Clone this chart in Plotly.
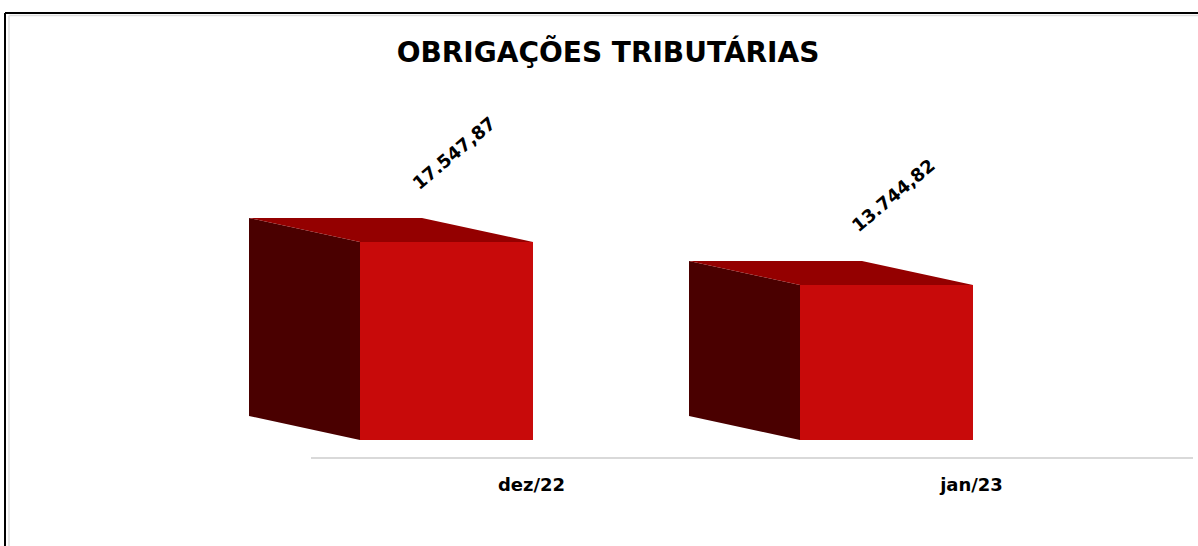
import plotly.graph_objects as go

categories = ['dez/22', 'jan/23']
values = [17547.87, 13744.82]
value_labels = ['17.547,87', '13.744,82']

FRONT = '#C80A0A'
SIDE = '#4A0000'
TOP = '#940000'

W, H = 1198, 546
PX_X = 440.0          # px per category step
PX_Y = 17547.87 / 198  # value units per px
X0_PX, Y0_PX = 446.5, 440  # pixel position of x=0 / y=0

bar_w = 173 / PX_X
depth_x = 111 / PX_X
depth_y = 24 * PX_Y

x_min = -X0_PX / PX_X
x_max = x_min + W / PX_X
y_min = -(H - Y0_PX) * PX_Y
y_max = y_min + H * PX_Y

fig = go.Figure()

for i, v in enumerate(values):
    x0, x1 = i - bar_w / 2, i + bar_w / 2
    # left side face
    fig.add_trace(go.Scatter(
        x=[x0 - depth_x, x0, x0, x0 - depth_x, x0 - depth_x],
        y=[depth_y, 0, v, v + depth_y, depth_y],
        fill='toself', fillcolor=SIDE, mode='lines', line=dict(width=0, color=SIDE),
        hoverinfo='skip', showlegend=False))
    # top face
    fig.add_trace(go.Scatter(
        x=[x0, x1, x1 - depth_x, x0 - depth_x, x0],
        y=[v, v, v + depth_y, v + depth_y, v],
        fill='toself', fillcolor=TOP, mode='lines', line=dict(width=0, color=TOP),
        hoverinfo='skip', showlegend=False))

# front faces
fig.add_trace(go.Bar(x=list(range(len(values))), y=values, width=bar_w,
                     marker=dict(color=FRONT, line=dict(width=0)),
                     hoverinfo='skip', showlegend=False))

for i, (v, t) in enumerate(zip(values, value_labels)):
    fig.add_annotation(x=i, y=v, text=t, showarrow=False, textangle=-40,
                       xshift=6.5, yshift=89,
                       font=dict(family='DejaVu Sans', size=18, color='black', weight='bold'))

axis_y = -18 * PX_Y
fig.add_shape(type='line', xref='x', yref='y',
              x0=(311 - X0_PX) / PX_X, x1=(1193 - X0_PX) / PX_X, y0=axis_y, y1=axis_y,
              line=dict(color='#D9D9D9', width=2))

# border
fig.add_shape(type='line', xref='paper', yref='paper', x0=5 / W, x1=1, y0=1 - 13 / H, y1=1 - 13 / H,
              line=dict(color='black', width=2))
fig.add_shape(type='line', xref='paper', yref='paper', x0=5 / W, x1=5 / W, y0=0, y1=1 - 13 / H,
              line=dict(color='black', width=2))
fig.add_shape(type='line', xref='paper', yref='paper', x0=9 / W, x1=1, y0=1 - 15.5 / H, y1=1 - 15.5 / H,
              line=dict(color='#DDDDDD', width=1.5))
fig.add_shape(type='line', xref='paper', yref='paper', x0=9 / W, x1=9 / W, y0=0, y1=1 - 15.5 / H,
              line=dict(color='#DDDDDD', width=1.5))

fig.update_layout(
    width=W, height=H,
    margin=dict(l=0, r=0, t=0, b=0),
    paper_bgcolor='white', plot_bgcolor='white',
    title=dict(text='OBRIGAÇÕES TRIBUTÁRIAS', x=608 / W, xanchor='center',
               y=1 - 52 / H, yanchor='middle',
               font=dict(family='DejaVu Sans', size=28, color='black', weight='bold')),
    xaxis=dict(range=[x_min, x_max], showgrid=False, zeroline=False, showline=False,
               anchor='free', position=(H - 458) / H,
               tickvals=[i + 85 / PX_X for i in range(len(categories))], ticktext=categories,
               ticks='', ticklabelstandoff=14,
               tickfont=dict(family='DejaVu Sans', size=18, color='black', weight='bold')),
    yaxis=dict(range=[y_min, y_max], visible=False),
)

fig.write_html('out.html', config={'displayModeBar': False},
               post_script="document.body.style.margin='0';")
